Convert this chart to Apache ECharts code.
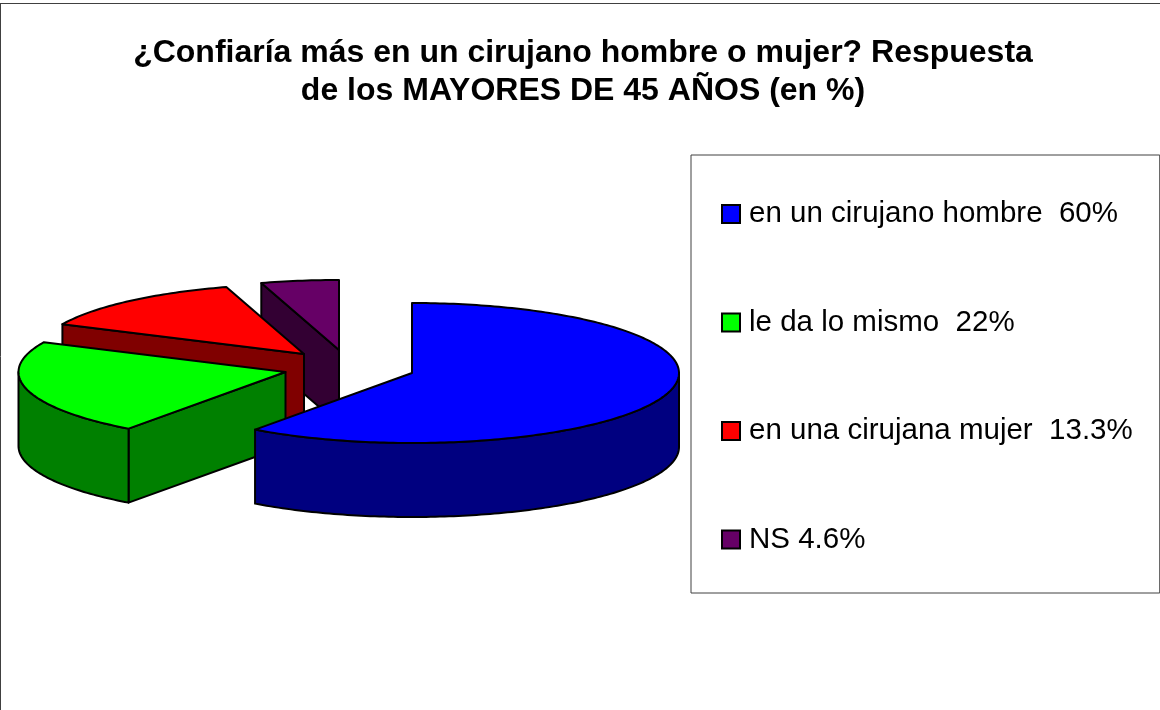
<!DOCTYPE html>
<html>
<head>
<meta charset="utf-8">
<style>html,body{margin:0;padding:0;background:#fff}#c{width:1160px;height:710px}</style>
<script src="https://cdn.jsdelivr.net/npm/echarts@6/dist/echarts.min.js"></script>
</head>
<body>
<div id="c"></div>
<script>
var titleText = '¿Confiaría más en un cirujano hombre o mujer? Respuesta\nde los MAYORES DE 45 AÑOS (en %)';
var categories = ['en un cirujano hombre  60%', 'le da lo mismo  22%', 'en una cirujana mujer  13.3%', 'NS 4.6%'];
var values = [60, 22, 13.3, 4.6];

var topColors = ['#0000ff', '#00ff00', '#ff0000', '#660066'];
var sideColors = ['#000080', '#008000', '#800000', '#330033'];
// exploded centre of each slice, pie radii and thickness (layout only)
var centres = [[412, 373], [285.5, 372], [304, 354], [339, 350]];
var RX = 267, RY = 70, DEPTH = 74;

function pt(c, deg, dy) {
  var a = deg * Math.PI / 180;
  return [c[0] + RX * Math.sin(a), c[1] - RY * Math.cos(a) + (dy || 0)];
}
function arc(c, from, to, dy) {
  var out = [], step = 1, d;
  for (d = from; d < to; d += step) out.push(pt(c, d, dy));
  out.push(pt(c, to, dy));
  return out;
}
var lineStyle = { stroke: '#000', lineWidth: 2, lineJoin: 'round' };
function face(points, fill) {
  return { type: 'polygon', shape: { points: points }, style: Object.assign({ fill: fill }, lineStyle) };
}
function wall(c, deg, fill) {
  var o = pt(c, deg);
  return face([o, c, [c[0], c[1] + DEPTH], [o[0], o[1] + DEPTH]], fill);
}

var angles = [], acc = 0;
values.forEach(function (v, i) {
  var start = acc;
  acc += v / 100 * 360;
  angles.push([start, i === values.length - 1 ? 360 : acc]);
});

var series = categories.map(function (name, i) {
  return {
    type: 'custom',
    name: name,
    coordinateSystem: 'none',
    silent: true,
    z: 10 - i,
    itemStyle: { color: topColors[i] },
    data: [[angles[i][0], angles[i][1]]],
    renderItem: function (params, api) {
      var s = api.value(0), e = api.value(1), c = centres[i], kids = [];
      // cut faces that look towards the viewer
      if (Math.sin(s * Math.PI / 180) < -0.001) kids.push(wall(c, s, sideColors[i]));
      if (Math.sin(e * Math.PI / 180) > 0.001) kids.push(wall(c, e, sideColors[i]));
      // visible part of the outer rim
      var a = Math.max(s, 90), b = Math.min(e, 270);
      if (b > a) kids.push(face(arc(c, a, b, 0).concat(arc(c, a, b, DEPTH).reverse()), sideColors[i]));
      // top face
      kids.push(face([c].concat(arc(c, s, e, 0)), topColors[i]));
      return { type: 'group', children: kids };
    }
  };
});
// paint from the back slice to the front slice
series.reverse();

var chart = echarts.init(document.getElementById('c'), null, { renderer: 'canvas' });
chart.setOption({
  animation: false,
  backgroundColor: '#fff',
  title: {
    text: titleText,
    left: 578,
    top: 29,
    textAlign: 'center',
    textStyle: { fontFamily: 'Liberation Sans', fontWeight: 'bold', fontSize: 32, lineHeight: 38, color: '#000' }
  },
  legend: {
    data: categories,
    orient: 'vertical',
    left: 691,
    top: 155,
    padding: [44, 27, 38.5, 30],
    borderColor: '#404040',
    borderWidth: 1,
    backgroundColor: '#fff',
    itemGap: 78.5,
    itemWidth: 18,
    itemHeight: 18,
    icon: 'rect',
    selectedMode: false,
    itemStyle: { borderColor: '#000', borderWidth: 2 },
    textStyle: { fontFamily: 'Liberation Sans', fontSize: 29.5, color: '#000', padding: [0, 0, 0, 4] }
  },
  graphic: [
    { type: 'line', shape: { x1: 0, y1: 3.5, x2: 1160, y2: 3.5 }, style: { stroke: '#404040', lineWidth: 1 } },
    { type: 'line', shape: { x1: 0.5, y1: 3, x2: 0.5, y2: 710 }, style: { stroke: '#404040', lineWidth: 1 } }
  ],
  series: series
});
</script>
</body>
</html>
